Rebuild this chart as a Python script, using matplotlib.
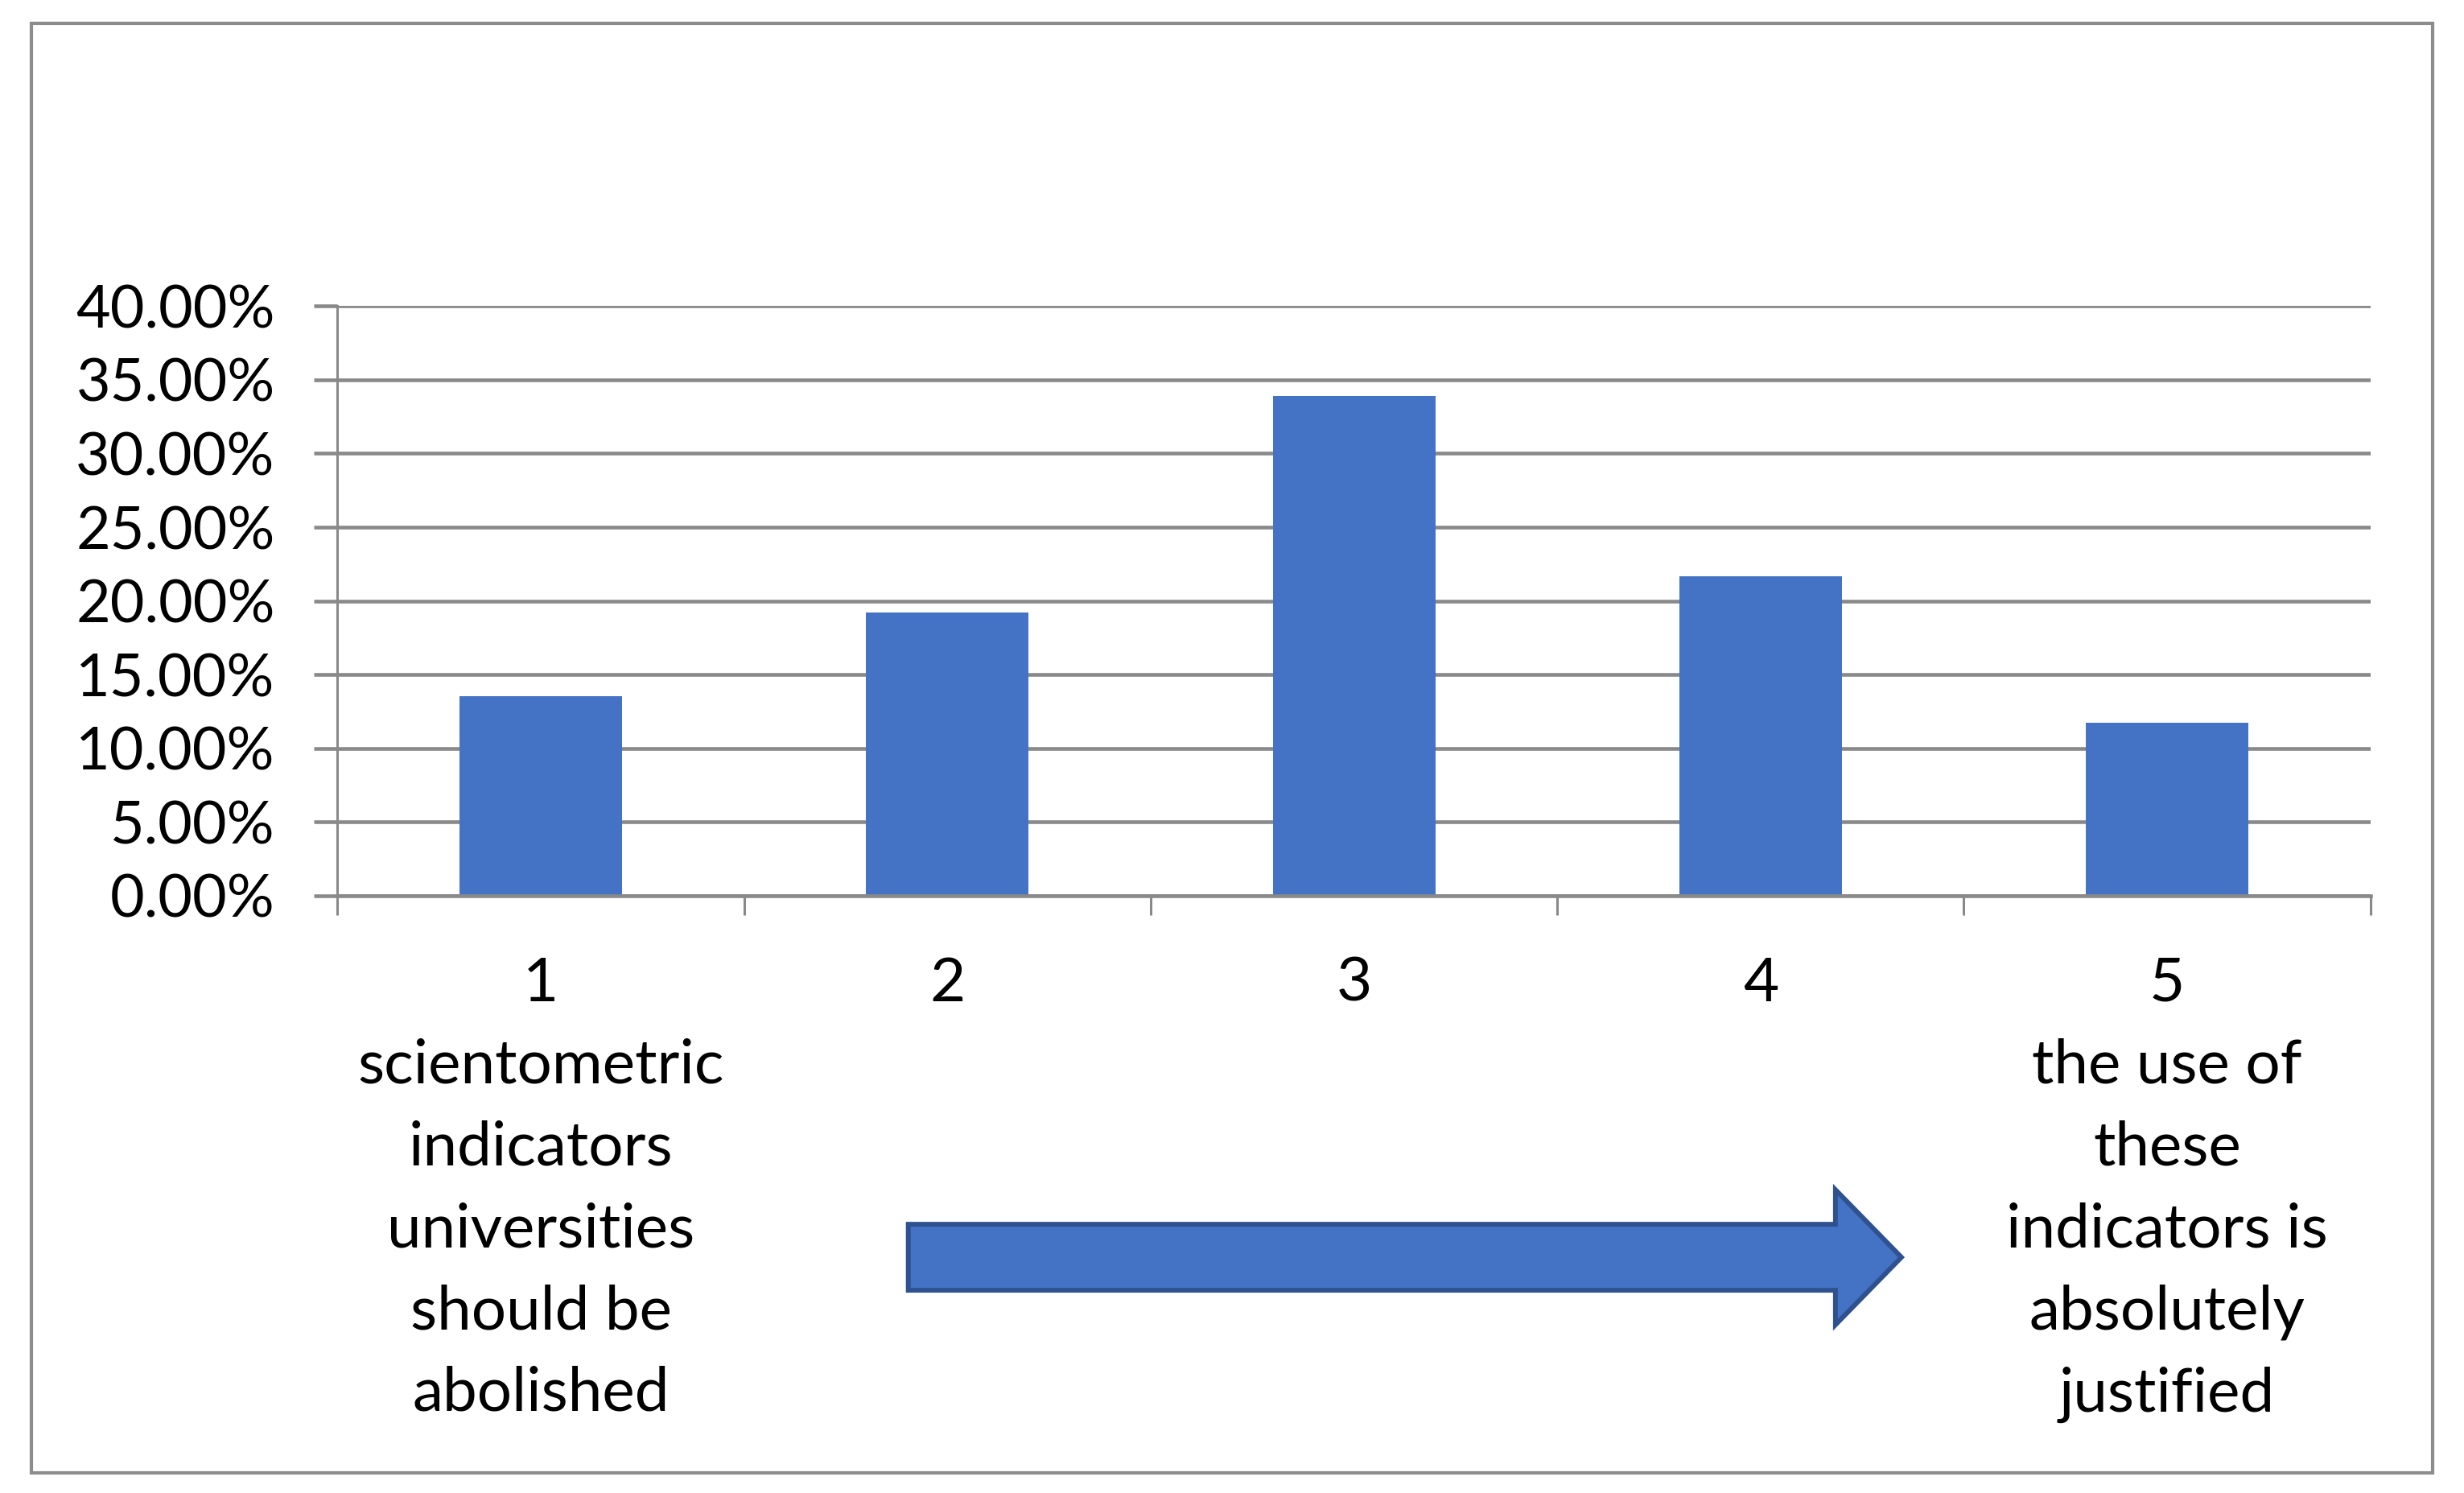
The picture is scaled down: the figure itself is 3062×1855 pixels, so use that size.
import matplotlib.pyplot as plt
from matplotlib.patches import Polygon, Rectangle
from matplotlib.ticker import FuncFormatter, FixedLocator

categories = ['1', '2', '3', '4', '5']
shares = [0.1355, 0.192, 0.339, 0.2165, 0.1173]
xlabels = ['1\nscientometric\nindicators\nuniversities\nshould be\nabolished',
           '2', '3', '4',
           '5\nthe use of\nthese\nindicators is\nabsolutely\njustified']
yticks = [0, 0.05, 0.10, 0.15, 0.20, 0.25, 0.30, 0.35, 0.40]

plt.rcParams['font.family'] = ['Lato', 'DejaVu Sans']
grey = '#898989'
blue = '#4472C4'

fig = plt.figure(figsize=(30.62, 18.55), dpi=100)
ax = fig.add_axes([0.137, 0.40, 0.825, 0.395])

x = list(range(len(categories)))
ax.bar(x, shares, width=0.4, color=blue, zorder=3)

ax.set_xlim(-0.5, 4.5)
ax.set_ylim(0, 0.4)
ax.set_yticks(yticks)
ax.yaxis.set_major_formatter(FuncFormatter(lambda v, p: '{:.2f}%'.format(v * 100)))
ax.grid(axis='y', color=grey, linewidth=3.3, zorder=1)

ax.set_xticks(x)
ax.set_xticklabels(xlabels, linespacing=1.585)
ax.xaxis.set_minor_locator(FixedLocator([i - 0.5 for i in range(len(categories) + 1)]))
ax.tick_params(axis='x', which='major', length=0, pad=54, labelsize=55)
ax.tick_params(axis='x', which='minor', length=17, width=2.2, color=grey)
ax.tick_params(axis='y', length=21, width=3.3, color=grey, pad=35, labelsize=53)

for s in ['top', 'right']:
    ax.spines[s].set_visible(False)
ax.spines['left'].set_color(grey)
ax.spines['left'].set_linewidth(2.2)
ax.spines['bottom'].set_color(grey)
ax.spines['bottom'].set_linewidth(3.3)
ax.spines['bottom'].set_zorder(4)

# outer frame
W, H = 1568.0, 950.0
fig.patches.append(Rectangle((20 / W, 1 - 937 / H), 1528 / W, 922 / H,
                             transform=fig.transFigure, fill=False,
                             edgecolor='#8c8c8c', linewidth=3))

# direction arrow
pts = [(578, 779), (1168, 779), (1168, 757), (1210, 800),
       (1168, 843), (1168, 821), (578, 821)]
arrow = Polygon([(px / W, 1 - py / H) for px, py in pts], closed=True,
                transform=fig.transFigure, facecolor=blue,
                edgecolor='#2F528F', linewidth=4.3, joinstyle='miter')
fig.patches.append(arrow)

fig.savefig('out.png', dpi=100)
